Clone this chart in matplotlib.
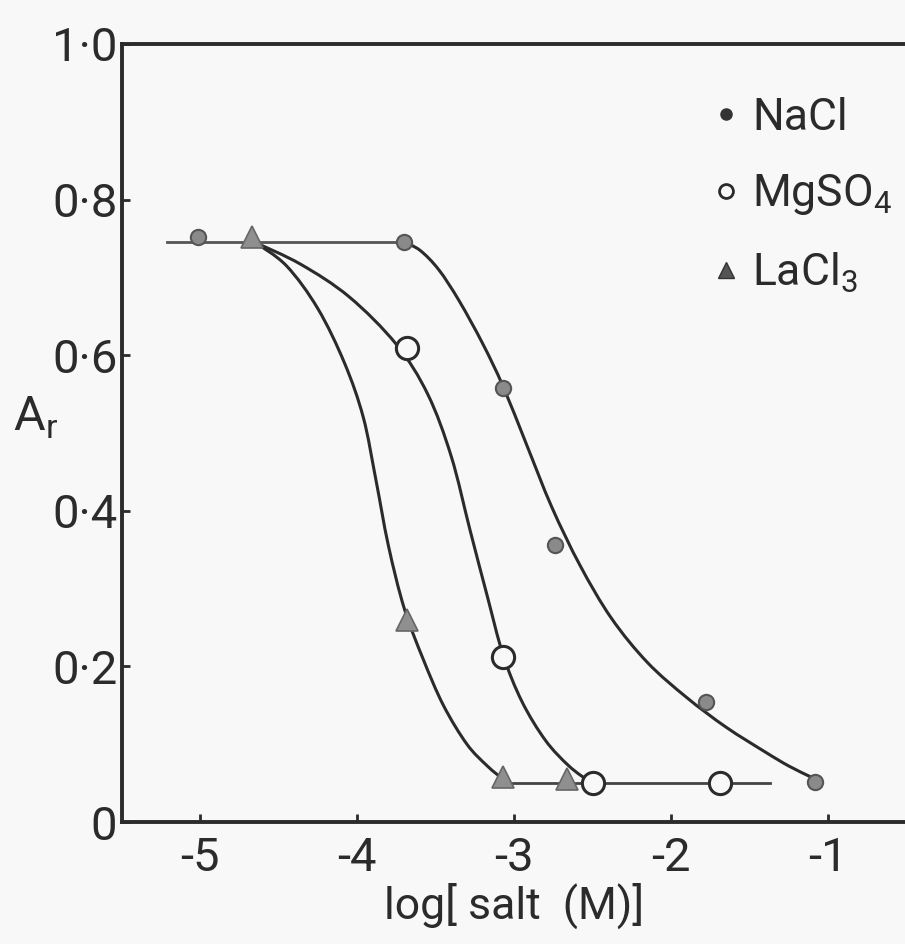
import matplotlib
matplotlib.use("Agg")
import matplotlib.pyplot as plt
from matplotlib.lines import Line2D
from matplotlib.path import Path
from matplotlib.patches import PathPatch

plt.rcParams['font.family'] = ['Roboto', 'DejaVu Sans']

# measured points, A_r against log[salt (M)]
nacl_x = [-5.01, -3.70, -3.07, -2.74, -1.78, -1.08]
nacl_y = [0.752, 0.745, 0.558, 0.356, 0.154, 0.051]
mgso4_x = [-3.68, -3.07, -2.50, -1.69]
mgso4_y = [0.609, 0.212, 0.050, 0.050]
lacl3_x = [-4.67, -3.68, -3.07, -2.66]
lacl3_y = [0.752, 0.260, 0.058, 0.055]

# hand-drawn curves
nacl_cx = [-3.70, -3.60, -3.48, -3.35, -3.20, -3.07, -2.92, -2.76, -2.58,
           -2.38, -2.15, -1.90, -1.65, -1.40, -1.25, -1.11]
nacl_cy = [0.745, 0.735, 0.710, 0.670, 0.615, 0.560, 0.485, 0.405, 0.330,
           0.262, 0.205, 0.160, 0.122, 0.090, 0.072, 0.058]
mgso4_cx = [-4.65, -4.36, -4.05, -3.75, -3.55, -3.40, -3.28, -3.17, -3.07,
            -2.95, -2.80, -2.65, -2.52]
mgso4_cy = [0.745, 0.717, 0.675, 0.614, 0.550, 0.470, 0.375, 0.290, 0.215,
            0.155, 0.105, 0.072, 0.052]
lacl3_cx = [-4.65, -4.45, -4.25, -4.08, -3.96, -3.88, -3.80, -3.70, -3.58,
            -3.45, -3.30, -3.17, -3.07]
lacl3_cy = [0.745, 0.715, 0.660, 0.590, 0.520, 0.440, 0.355, 0.275, 0.210,
            0.150, 0.100, 0.072, 0.055]
top_x = [-5.21, -3.70]
top_y = [0.745, 0.745]
floor_x = [-3.07, -1.37]
floor_y = [0.050, 0.050]

xticks = [-5, -4, -3, -2, -1]
yticks = [0, 0.2, 0.4, 0.6, 0.8, 1.0]
ytick_labels = ['0', '0·2', '0·4', '0·6', '0·8', '1·0']

bg = '#f8f8f8'
ink = '#2b2b2b'


def smooth_path(xs, ys):
    # Catmull-Rom through the traced points, as cubic Bezier pieces
    pts = list(zip(xs, ys))
    verts = [pts[0]]
    codes = [Path.MOVETO]
    n = len(pts)
    for i in range(n - 1):
        p0 = pts[max(i - 1, 0)]
        p1 = pts[i]
        p2 = pts[i + 1]
        p3 = pts[min(i + 2, n - 1)]
        c1 = (p1[0] + (p2[0] - p0[0]) / 6, p1[1] + (p2[1] - p0[1]) / 6)
        c2 = (p2[0] - (p3[0] - p1[0]) / 6, p2[1] - (p3[1] - p1[1]) / 6)
        verts += [c1, c2, p2]
        codes += [Path.CURVE4] * 3
    return Path(verts, codes)


fig = plt.figure(figsize=(9.05, 9.44), dpi=100, facecolor=bg)
ax = fig.add_axes([0.1343, 0.1292, 0.8674, 0.8242], facecolor=bg)

for cx, cy in [(nacl_cx, nacl_cy), (mgso4_cx, mgso4_cy), (lacl3_cx, lacl3_cy)]:
    ax.add_patch(PathPatch(smooth_path(cx, cy), fill=False, ec=ink, lw=2.2,
                           capstyle='round', zorder=2))
ax.plot(top_x, top_y, color='#555555', lw=2.0, zorder=2)
ax.plot(floor_x, floor_y, color='#444444', lw=2.0, zorder=2)

ax.plot(nacl_x, nacl_y, 'o', ms=11, mfc='#8a8a8a', mec='#555555', mew=1.5, ls='none', zorder=3)
ax.plot(mgso4_x, mgso4_y, 'o', ms=16, mfc=bg, mec=ink, mew=2.2, ls='none', zorder=3)
ax.plot(lacl3_x, lacl3_y, '^', ms=16, mfc='#8f8f8f', mec='#666666', mew=1.2, ls='none', zorder=3)

ax.set_xlim(-5.5, -0.5)
ax.set_ylim(0, 1.0)
ax.set_xticks(xticks)
ax.set_xticklabels([str(t) for t in xticks])
ax.set_yticks(yticks)
ax.set_yticklabels(ytick_labels)
ax.tick_params(direction='in', length=6, width=2, labelsize=34, colors=ink, pad=3)
ax.tick_params(axis='x', pad=10)
for s in ['left', 'bottom', 'top']:
    ax.spines[s].set_linewidth(2.8)
    ax.spines[s].set_color(ink)
ax.spines['right'].set_visible(False)

ax.set_xlabel('log[ salt  (M)]', fontsize=32, color=ink, labelpad=2)
ax.set_ylabel('A$_\\mathregular{r}$', fontsize=35, color=ink, rotation=0, va='center')
ax.yaxis.set_label_coords(-0.11, 0.52)

handles = [
    Line2D([], [], marker='o', ls='none', ms=8, mfc='#333333', mec='#333333'),
    Line2D([], [], marker='o', ls='none', ms=10, mfc=bg, mec=ink, mew=2),
    Line2D([], [], marker='^', ls='none', ms=12, mfc='#555555', mec='#333333'),
]
labels = ['NaCl', '$\\mathregular{MgSO_4}$', '$\\mathregular{LaCl_3}$']
ax.legend(handles, labels, loc='upper left', bbox_to_anchor=(0.73, 0.955), frameon=False,
          fontsize=32, handlelength=0.6, handletextpad=0.3, labelspacing=0.75,
          borderaxespad=0, labelcolor=ink)

fig.savefig('out.png', dpi=100, facecolor=bg)
